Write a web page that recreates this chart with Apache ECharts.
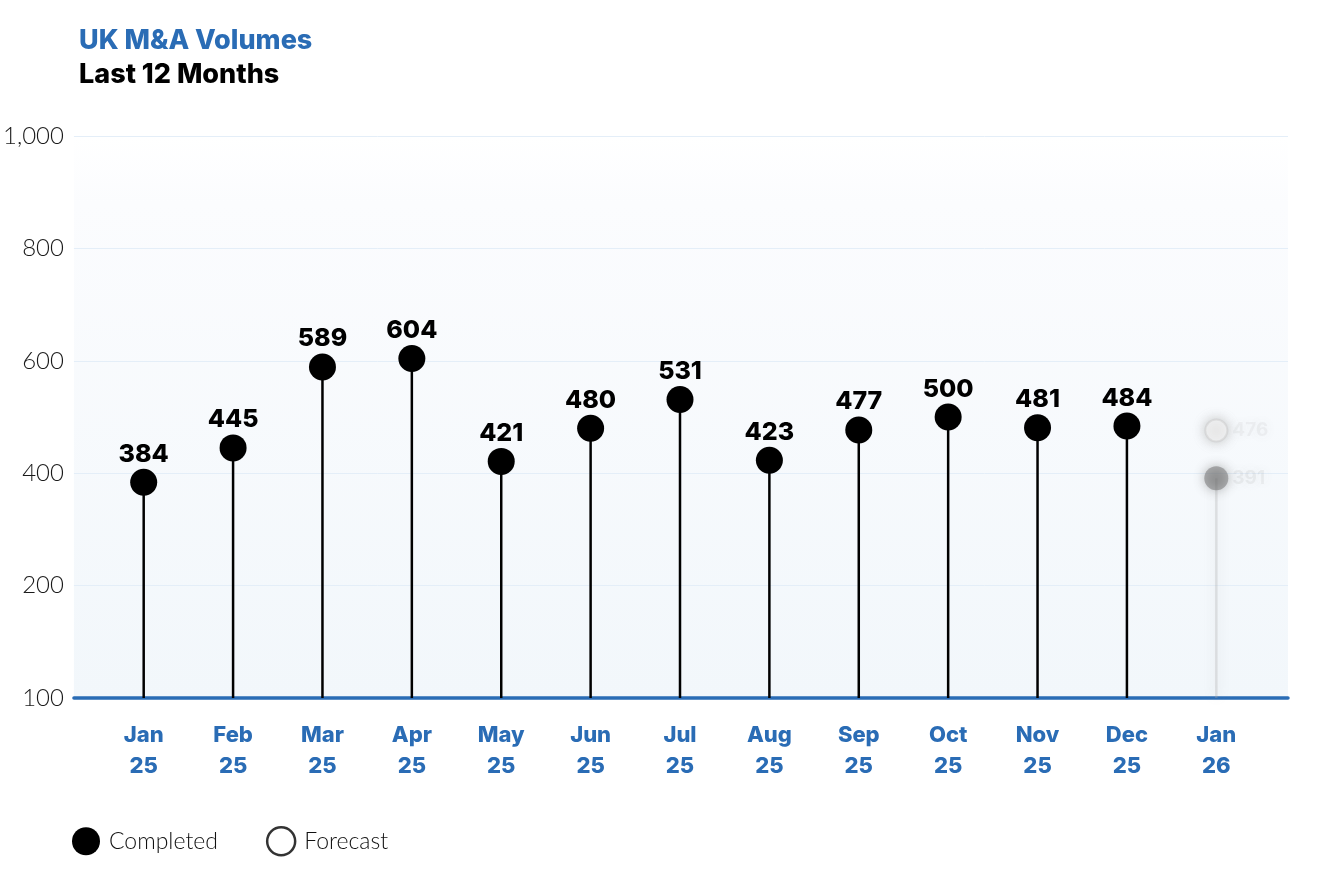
<!DOCTYPE html>
<html>
<head>
<meta charset="utf-8">
<script src="https://cdn.jsdelivr.net/npm/echarts@6/dist/echarts.min.js"></script>
<style>
html,body{margin:0;padding:0;background:#fff;}
#chart{width:1322px;height:876px;}
</style>
</head>
<body>
<div id="chart"></div>
<script>
const categories = ['Jan\n25','Feb\n25','Mar\n25','Apr\n25','May\n25','Jun\n25','Jul\n25','Aug\n25','Sep\n25','Oct\n25','Nov\n25','Dec\n25','Jan\n26'];
const completed = [384, 445, 589, 604, 421, 480, 531, 423, 477, 500, 481, 484, 391];
const forecast = [null, null, null, null, null, null, null, null, null, null, null, null, 476];
const yTickValues = [0, 200, 400, 600, 800, 1000];
const yTickLabels = ['100', '200', '400', '600', '800', '1,000'];

const BLUE = '#2a6cb5';
const lastIdx = categories.length - 1;
const blurLabel = {
  show: true, position: 'right', distance: 4,
  color: 'rgba(150,150,150,0.12)', fontSize: 19, fontWeight: 'bold', fontFamily: 'Inter',
  textShadowColor: 'rgba(100,100,100,0.75)', textShadowBlur: 12,
  formatter: '{c}'
};

const chart = echarts.init(document.getElementById('chart'));
chart.setOption({
  animation: false,
  title: [
    { text: 'UK M&A Volumes', left: 74, top: 22,
      textStyle: { color: BLUE, fontSize: 27, fontWeight: 800, fontFamily: 'Inter' } },
    { text: 'Last 12 Months', left: 74, top: 56,
      textStyle: { color: '#000', fontSize: 27, fontWeight: 800, fontFamily: 'Inter' } }
  ],
  legend: {
    left: 67, top: 821, itemWidth: 28, itemHeight: 28, itemGap: 48,
    icon: 'circle', selectedMode: false,
    textStyle: { fontSize: 23, color: '#111', fontFamily: 'Lato', fontWeight: 300, padding: [0,0,0,4] },
    data: [
      { name: 'Completed', itemStyle: { color: '#000' } },
      { name: 'Forecast', itemStyle: { color: '#fff', borderColor: '#000', borderWidth: 2.5 } }
    ]
  },
  grid: [
    { left: 72, right: 34, top: 136, bottom: 178, show: true, borderWidth: 0,
      backgroundColor: new echarts.graphic.LinearGradient(0, 0, 0, 1, [
        { offset: 0, color: '#ffffff' }, { offset: 0.12, color: '#fbfcfe' }, { offset: 1, color: '#f2f7fb' }
      ]) },
    { left: 99, right: 61, top: 136, bottom: 178 }
  ],
  xAxis: [
    { type: 'category', gridIndex: 0, data: categories, boundaryGap: true,
      axisLine: { show: true, lineStyle: { color: BLUE, width: 3.5 } },
      axisTick: { show: false }, axisLabel: { show: false }, splitLine: { show: false } },
    { type: 'category', gridIndex: 1, data: categories, boundaryGap: true,
      axisLine: { show: false }, axisTick: { show: false },
      axisLabel: { show: true, interval: 0, color: BLUE, fontSize: 22, fontWeight: 800,
        fontFamily: 'Inter', lineHeight: 31, margin: 22, align: 'center' } }
  ],
  yAxis: [
    { type: 'value', gridIndex: 0, min: 0, max: 1000, interval: 200,
      axisLine: { show: false }, axisTick: { show: false },
      axisLabel: { margin: 10, fontSize: 24, color: '#1a1a1a', fontFamily: 'Lato', fontWeight: 300,
        formatter: v => yTickLabels[yTickValues.indexOf(v)] },
      splitLine: { show: true, lineStyle: { color: '#e4eef8', width: 1 } } },
    { type: 'value', gridIndex: 1, min: 0, max: 1000, interval: 200, show: false,
      splitLine: { show: false } }
  ],
  series: [
    { name: 'stem', type: 'bar', xAxisIndex: 1, yAxisIndex: 1, barWidth: 2.5, silent: true,
      data: completed.map((v, i) => i === lastIdx
        ? { value: v, itemStyle: { color: 'rgba(170,170,170,0.3)', shadowColor: 'rgba(150,150,150,0.8)', shadowBlur: 12 } }
        : { value: v, itemStyle: { color: '#000' } }),
      z: 2 },
    { name: 'Completed', type: 'scatter', xAxisIndex: 1, yAxisIndex: 1, symbol: 'circle', symbolSize: 27,
      itemStyle: { color: '#000', opacity: 1 },
      label: { show: true, position: 'top', distance: 2, color: '#000', fontSize: 25, fontWeight: 800,
        fontFamily: 'Inter' },
      data: completed.map((v, i) => i === lastIdx
        ? { value: v, symbolSize: 24, itemStyle: { color: 'rgba(110,110,110,0.5)', shadowColor: 'rgba(90,90,90,0.9)', shadowBlur: 12 },
            label: blurLabel }
        : v),
      z: 3 },
    { name: 'Forecast', type: 'scatter', xAxisIndex: 1, yAxisIndex: 1, symbol: 'circle', symbolSize: 22,
      itemStyle: { color: 'rgba(255,255,255,0.8)', borderColor: 'rgba(200,200,200,0.6)', borderWidth: 2,
        shadowColor: 'rgba(160,160,160,0.9)', shadowBlur: 12 },
      label: blurLabel,
      data: forecast, z: 3 }
  ]
});
</script>
</body>
</html>
